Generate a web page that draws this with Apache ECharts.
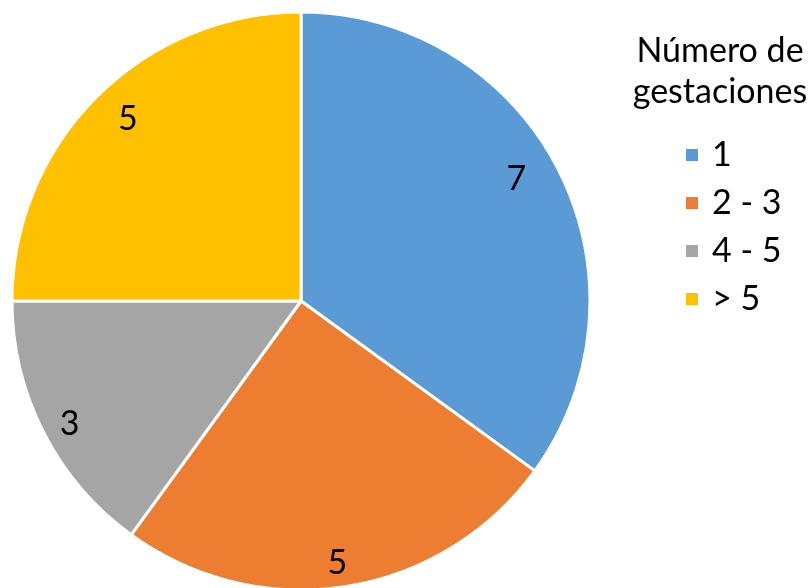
<!DOCTYPE html>
<html>
<head>
<meta charset="utf-8">
<script src="https://cdn.jsdelivr.net/npm/echarts@6/dist/echarts.min.js"></script>
<style>
html,body{margin:0;padding:0;background:#fff;}
#chart{width:812px;height:588px;}
</style>
</head>
<body>
<div id="chart"></div>
<script>
// Gestation groups and their counts
const categories = ['1', '2 - 3', '4 - 5', '> 5'];
const counts = [7, 5, 3, 5];
const colors = ['#5B9BD5', '#ED7D31', '#A5A5A5', '#FFC000'];
const legendTitle = 'Número de\ngestaciones';

// small nudges so each value label sits snugly inside the slice edge
const labelOffsets = [[-14, -5], [-4, 8], [-2, 6], [9, 0]];

const FONT = 'Lato, "Open Sans", sans-serif';
const FONT_SIZE = 34;
const pieData = categories.map((name, i) => ({ name, value: counts[i], itemStyle: { color: colors[i] } }));

const chart = echarts.init(document.getElementById('chart'));
chart.setOption({
  animation: false,
  backgroundColor: '#fff',
  title: {
    text: legendTitle,
    left: 720,
    top: 31,
    padding: 0,
    textAlign: 'center',
    textStyle: { fontFamily: FONT, fontSize: FONT_SIZE, fontWeight: 'normal', color: '#000', lineHeight: 41, align: 'center' }
  },
  legend: {
    orient: 'vertical',
    left: 684,
    top: 138,
    padding: 0,
    itemWidth: 14,
    itemHeight: 14,
    itemGap: 14,
    icon: 'rect',
    textStyle: { fontFamily: FONT, fontSize: FONT_SIZE, color: '#000', padding: [0, 0, 0, 8] },
    data: categories
  },
  series: [
    {
      type: 'pie',
      center: [301, 301],
      radius: [0, 289],
      startAngle: 90,
      clockwise: true,
      avoidLabelOverlap: false,
      itemStyle: { borderColor: '#fff', borderWidth: 3 },
      label: { show: false },
      labelLine: { show: false },
      emphasis: { disabled: true },
      data: pieData
    },
    {
      // transparent ring used only to place value labels near the rim
      type: 'pie',
      center: [301, 301],
      radius: [220, 289],
      startAngle: 90,
      clockwise: true,
      silent: true,
      avoidLabelOverlap: false,
      legendHoverLink: false,
      itemStyle: { color: 'rgba(0,0,0,0)', borderWidth: 0 },
      label: {
        show: true,
        position: 'inside',
        formatter: '{c}',
        fontFamily: FONT,
        fontSize: FONT_SIZE,
        color: '#000'
      },
      labelLine: { show: false },
      emphasis: { disabled: true },
      data: categories.map((name, i) => ({
        name: name + ' ',
        value: counts[i],
        label: { offset: labelOffsets[i] }
      }))
    }
  ]
});
</script>
</body>
</html>
